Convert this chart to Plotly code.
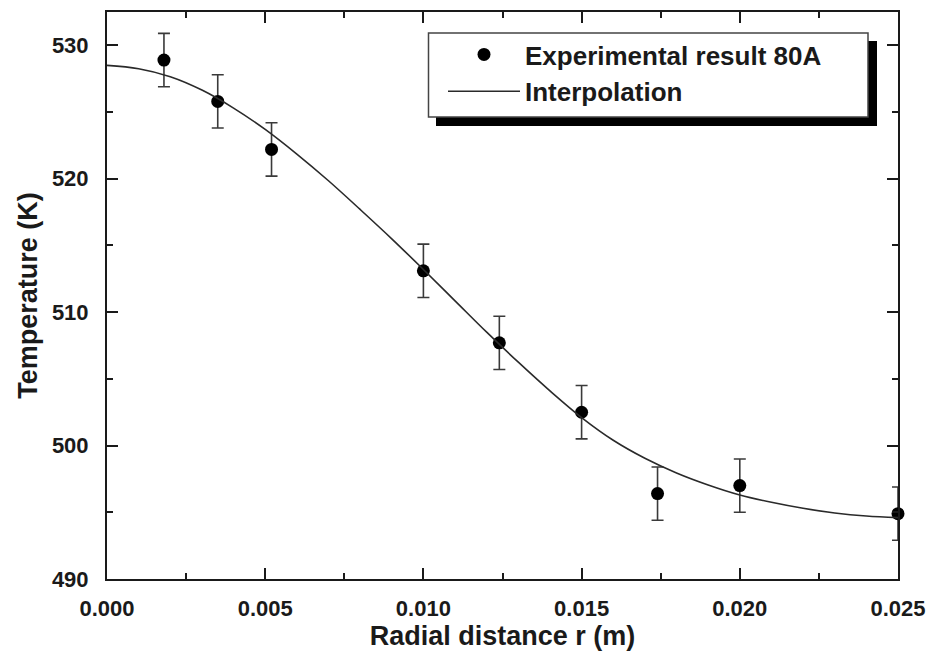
import plotly.graph_objects as go

# Experimental data
r_exp = [0.0018, 0.0035, 0.0052, 0.0100, 0.0124, 0.0150, 0.0174, 0.0200, 0.0250]
T_exp = [528.9, 525.8, 522.2, 513.1, 507.7, 502.5, 496.4, 497.0, 494.9]
T_err = [2.0, 2.0, 2.0, 2.0, 2.0, 2.0, 2.0, 2.0, 2.0]

# Interpolation curve
r_fit = [0.000, 0.001, 0.002, 0.003, 0.004, 0.005, 0.006, 0.007, 0.008, 0.009,
         0.010, 0.011, 0.012, 0.013, 0.014, 0.015, 0.016, 0.017, 0.018, 0.019,
         0.020, 0.021, 0.022, 0.023, 0.024, 0.025]
T_fit = [528.5, 528.25, 527.65, 526.65, 525.3, 523.7, 521.85, 519.85, 517.7, 515.5,
         513.2, 510.85, 508.5, 506.25, 504.1, 502.1, 500.4, 499.05, 497.95, 497.05,
         496.3, 495.75, 495.3, 494.95, 494.72, 494.6]

x_ticks = [0.000, 0.005, 0.010, 0.015, 0.020, 0.025]
x_ticklabels = ["0.000", "0.005", "0.010", "0.015", "0.020", "0.025"]
y_ticks = [490, 500, 510, 520, 530]

FONT = "Liberation Sans, Arial, sans-serif"
INK = "#1a1a1a"

# plot-area geometry in pixels (for the legend box decoration)
L, R, T, B = 107, 898, 12, 579
W, H = R - L, B - T


def px_x(p):
    return (p - L) / W


def px_y(p):
    return (B - p) / H


fig = go.Figure()
fig.add_trace(go.Scatter(
    x=r_exp, y=T_exp, mode="markers", name="Experimental result 80A",
    marker=dict(color="black", size=13),
    error_y=dict(type="data", array=T_err, visible=True, color="#3a3a3a",
                 thickness=1.6, width=6),
    cliponaxis=False,
))
fig.add_trace(go.Scatter(
    x=r_fit, y=T_fit, mode="lines", name="Interpolation",
    line=dict(color="#2a2a2a", width=1.6, shape="spline"),
))

axis_common = dict(
    showline=True, linewidth=2, linecolor=INK, mirror="ticks",
    ticks="inside", ticklen=11, tickwidth=2, tickcolor=INK,
    showgrid=False, zeroline=False, automargin=False,
    tickfont=dict(family=FONT, size=22, color=INK, weight="bold"),
)

fig.update_layout(
    width=929, height=651,
    margin=dict(l=L, r=929 - R, t=T, b=651 - B),
    paper_bgcolor="white", plot_bgcolor="white",
    font=dict(family=FONT, color=INK),
    xaxis=dict(
        range=[0, 0.025], tickvals=x_ticks, ticktext=x_ticklabels,
        minor=dict(dtick=0.0025, ticks="inside", ticklen=6, tickwidth=2, tickcolor=INK),
        title=dict(text="Radial distance r (m)", standoff=6,
                   font=dict(family=FONT, size=27, color=INK, weight="bold")),
        ticklabelstandoff=9,
        **axis_common,
    ),
    yaxis=dict(
        range=[490, 532.5], tickvals=y_ticks,
        minor=dict(dtick=5, ticks="inside", ticklen=6, tickwidth=2, tickcolor=INK),
        title=dict(text="Temperature (K)", standoff=6,
                   font=dict(family=FONT, size=27, color=INK, weight="bold")),
        ticklabelstandoff=12,
        **axis_common,
    ),
    legend=dict(
        x=px_x(443), y=px_y(31), xanchor="left", yanchor="top",
        bgcolor="rgba(0,0,0,0)", borderwidth=0,
        font=dict(family=FONT, size=26, color=INK, weight="bold"),
        itemwidth=72, tracegroupgap=0,
    ),
    showlegend=True,
    shapes=[
        dict(type="rect", xref="paper", yref="paper",
             x0=px_x(436), x1=px_x(877), y0=px_y(126), y1=px_y(41),
             fillcolor="black", line=dict(width=0), layer="above"),
        dict(type="rect", xref="paper", yref="paper",
             x0=px_x(428.5), x1=px_x(868), y0=px_y(117), y1=px_y(33),
             fillcolor="white", line=dict(width=1.5, color="#444444"), layer="above"),
    ],
)

fig.write_html("out.html")
